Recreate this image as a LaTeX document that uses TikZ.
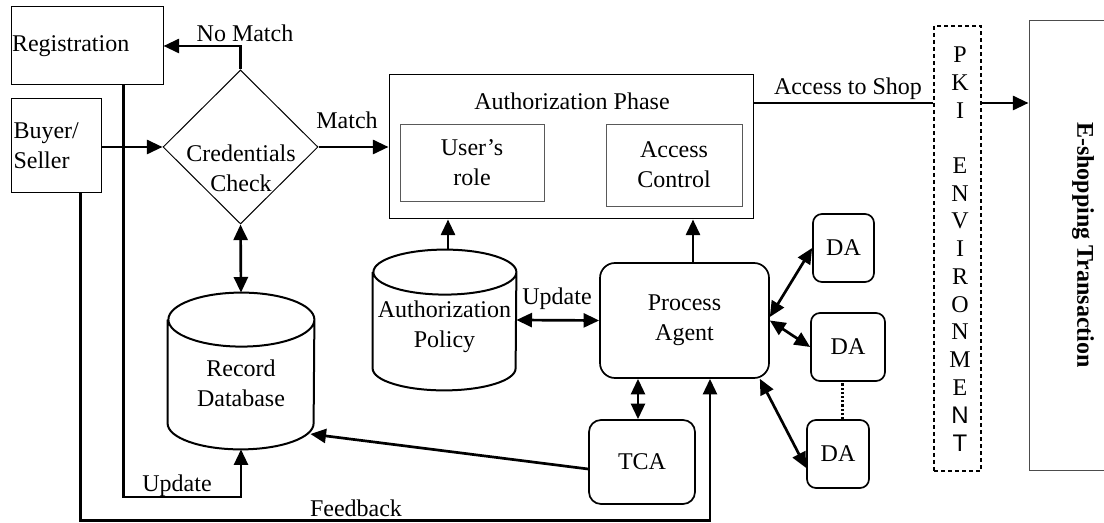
\documentclass[tikz,border=0pt]{standalone}
\usepackage{fontspec}
\setmainfont{Liberation Serif}
\newfontfamily\pkisans{Liberation Sans}
\usetikzlibrary{shapes.geometric,arrows.meta}
\begin{document}
\begin{tikzpicture}[x=0.5pt,y=-0.5pt,font=\fontsize{12}{15}\selectfont,
		every node/.append style={align=center},
		box/.style={draw,line width=0.5pt,inner sep=0pt},
		ibox/.style={draw=black!65,line width=0.45pt,inner sep=0pt},
		rbox/.style={draw,line width=0.85pt,rounded corners=4.5pt,inner sep=0pt},
		cyl/.style={line width=1pt},
		arr/.style={line width=1.35pt,-{Triangle[length=7.8pt,width=7pt]}},
		dblarr/.style={line width=1.35pt,{Triangle[length=7.8pt,width=7pt]}-{Triangle[length=7.8pt,width=7pt]}},
		plain/.style={line width=1.35pt}]
			\useasboundingbox (0,0) rectangle (1104,523);
			\clip (0,0) rectangle (1104,523);
			\node[box,minimum width=76pt,minimum height=39pt,text width=75pt,align=left,inner sep=0.5pt] (reg) at (87,46) {Registration};
			\node[box,minimum width=45pt,minimum height=47pt,text width=42.5pt,align=left,inner sep=1.25pt] (bs) at (56,146) {Buyer/\\Seller};
			\node[diamond,draw,line width=0.5pt,minimum width=77.5pt,minimum height=77pt,inner sep=0pt,aspect=1] (cc) at (240.5,147) {};
			\node (cctext) at (241,168) {Credentials\\Check};
			\node[box,minimum width=182pt,minimum height=72pt] (ap) at (571,147) {};
			\node (aptitle) at (572,101) {Authorization Phase};
			\node[ibox,minimum width=72pt,minimum height=38.5pt] (ur) at (472,162.5) {User's\\role};
			\node[ibox,minimum width=68pt,minimum height=41pt] (ac) at (674,165) {Access\\Control};
			\node[inner sep=0pt,minimum width=71.5pt,minimum height=70pt] (apol) at (444.5,320) {};
			\draw[cyl] ([yshift=-11.25pt]apol.north west) -- ([yshift=11pt]apol.south west)
				arc[start angle=180,end angle=360,x radius=35.75pt,y radius=11pt]
				-- ([yshift=-11.25pt]apol.north east)
				arc[start angle=0,end angle=360,x radius=35.75pt,y radius=11.25pt];
			\node (apoltext) at (444.5,327) {Authorization\\Policy};
			\node[inner sep=0pt,minimum width=73pt,minimum height=78pt] (rdb) at (241,371) {};
			\draw[cyl] ([yshift=-13.5pt]rdb.north west) -- ([yshift=13pt]rdb.south west)
				arc[start angle=180,end angle=360,x radius=36.5pt,y radius=13pt]
				-- ([yshift=-13.5pt]rdb.north east)
				arc[start angle=0,end angle=360,x radius=36.5pt,y radius=13.5pt];
			\node (rdbtext) at (241,383) {Record\\Database};
			\node[rbox,rounded corners=7.5pt,minimum width=84.5pt,minimum height=57.5pt] (pa) at (684.5,320.5) {Process\\Agent};
			\node[rbox,rounded corners=6pt,minimum width=53pt,minimum height=42pt] (tca) at (642,462) {TCA};
			\node[rbox,minimum width=30.5pt,minimum height=34pt] (da1) at (843.5,248) {DA};
			\node[rbox,minimum width=37pt,minimum height=34pt] (da2) at (848,347) {DA};
			\node[rbox,minimum width=31pt,minimum height=34pt] (da3) at (838,454) {DA};
			\node[draw,dash pattern=on 2pt off 1.5pt,line width=0.7pt,minimum width=23.5pt,minimum height=222.5pt,inner sep=0pt] (pki) at (957.5,248.5) {};
			\foreach \k/\c in {0/P,1/K,2/I,4/E,5/N,6/V,7/I,8/R,9/O,10/N,11/M,12/E,13/{\pkisans N},14/{\pkisans T}}{
				\node (pki\k) at (960,{55+27.7*\k}) {\c};
			}
			\node[draw=black!70,line width=0.5pt,minimum width=60pt,minimum height=225pt,inner sep=0pt] (es) at (1089,246) {};
			\node[rotate=-90,font=\fontsize{12}{15}\selectfont\bfseries] (estext) at (1083,245) {E-shopping Transaction};
			\path ([xshift=-20pt]reg.south east) coordinate (u1)
				(180,497) coordinate (upd)
				([xshift=-10.5pt]bs.south east) coordinate (f1)
				(400,520.5) coordinate (fb)
				([xshift=12.75pt]pa.south) coordinate (f2)
				([yshift=22pt]ap.east) coordinate (acc);
			\draw[arr] (cc.north) |- (reg.east);
			\draw[arr] (bs.east |- cc.west) -- (cc.west);
			\draw[arr] (cc.east) -- (ap.west);
			\draw[dblarr] (cc.south) -- (rdb.north);
			\draw[arr] (u1) |- (upd) -| (rdb.south);
			\draw[arr] (f1) |- (fb) -| (f2);
			\draw[arr] ([xshift=1.75pt]apol.north) -- ([xshift=1.75pt]apol.north |- ap.south);
			\draw[arr] ([xshift=4.25pt]pa.north) -- ([xshift=4.25pt]pa.north |- ap.south);
			\draw[dblarr] (apol.east) -- (pa.west);
			\draw[dblarr] ([xshift=-2pt]tca.north) -- ([xshift=-2pt]tca.north |- pa.south);
			\draw[arr] ([yshift=-3.5pt]tca.west) -- ([xshift=-2pt,yshift=-31.5pt]rdb.east);
			\draw[dblarr] ([yshift=1.75pt]pa.east) -- (da1.west);
			\draw[dblarr] (pa.east) -- (da2.west);
			\draw[dblarr] ([xshift=-5pt]pa.south east) -- ([yshift=-7pt]da3.west);
			\draw[line width=1.5pt,dash pattern=on 1.1pt off 1pt] ([xshift=2pt]da3.north) -- ([xshift=2pt]da3.north |- da2.south);
			\draw[plain] (acc) -- (acc -| pki.west);
			\draw[arr] (acc -| pki.east) -- (acc -| es.west);
			\foreach \n/\p/\t in {nm/{245,33}/No Match,mt/{347,120}/Match,as/{848,89}/Access to Shop,
				up/{557,299}/Update,ul/{177,486}/Update,fbl/{356,508}/Feedback}{
				\node (\n) at (\p) {\t};
			}
		\end{tikzpicture}
\end{document}
